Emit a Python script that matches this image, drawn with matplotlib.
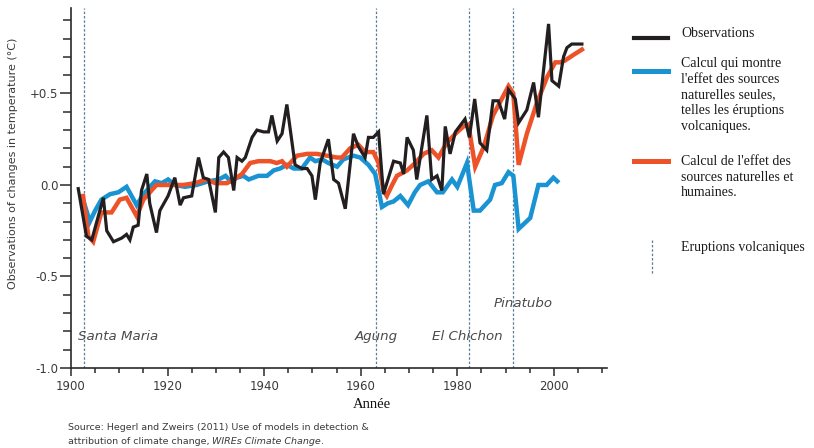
import numpy as np
import matplotlib
matplotlib.use('Agg')
import matplotlib.pyplot as plt
from matplotlib.lines import Line2D
from matplotlib.ticker import MultipleLocator, FixedLocator

# observations (year, anomaly °C)
obs_year = [1901.5, 1903.2, 1904.3, 1906.7, 1907.4, 1908.8, 1910.5, 1911.5, 1912.2, 1912.9,
            1913.9, 1914.6, 1915.7, 1916.3, 1917.7, 1918.4, 1920.1, 1921.5, 1922.6, 1923.3,
            1925.0, 1926.4, 1927.4, 1928.5, 1929.9, 1930.6, 1931.6, 1932.6, 1933.7, 1934.4,
            1935.4, 1936.1, 1937.5, 1938.5, 1939.9, 1940.9, 1941.6, 1942.7, 1943.7, 1944.7,
            1946.4, 1947.8, 1948.9, 1949.9, 1950.6, 1951.6, 1953.3, 1954.4, 1955.4, 1956.8,
            1958.5, 1959.5, 1960.9, 1961.6, 1962.6, 1963.7, 1964.7, 1966.8, 1968.2, 1968.9,
            1969.6, 1970.9, 1971.6, 1973.7, 1974.7, 1975.8, 1976.8, 1977.5, 1978.5, 1979.6,
            1981.6, 1982.5, 1983.6, 1984.7, 1986.1, 1987.4, 1988.5, 1989.8, 1990.6, 1992.0,
            1992.7, 1994.4, 1995.8, 1996.8, 1998.9, 1999.6, 2001.0, 2002.0, 2002.7, 2003.7,
            2004.4, 2005.1, 2005.8]
obs_val = [-0.02, -0.28, -0.30, -0.07, -0.25, -0.31, -0.29, -0.27, -0.30, -0.23,
           -0.22, -0.03, 0.06, -0.10, -0.26, -0.14, -0.06, 0.04, -0.11, -0.07,
           -0.06, 0.15, 0.04, 0.03, -0.15, 0.15, 0.18, 0.15, -0.03, 0.15,
           0.13, 0.15, 0.26, 0.30, 0.29, 0.29, 0.38, 0.24, 0.28, 0.44,
           0.11, 0.09, 0.09, 0.05, -0.08, 0.12, 0.25, 0.03, 0.01, -0.13,
           0.28, 0.21, 0.15, 0.26, 0.26, 0.29, -0.05, 0.13, 0.12, 0.06,
           0.26, 0.19, 0.03, 0.38, 0.03, 0.05, -0.03, 0.32, 0.17, 0.29,
           0.36, 0.26, 0.47, 0.23, 0.19, 0.46, 0.46, 0.36, 0.52, 0.47,
           0.34, 0.41, 0.56, 0.37, 0.88, 0.57, 0.54, 0.70, 0.75, 0.77,
           0.77, 0.77, 0.77]

# model, natural + human forcing
all_year = [1902.5, 1903.6, 1904.6, 1906.3, 1908.4, 1910.1, 1911.5, 1913.6, 1915.0, 1917.0,
            1917.7, 1920.1, 1923.2, 1925.7, 1928.0, 1929.9, 1932.3, 1933.7, 1935.4, 1937.1,
            1938.8, 1941.3, 1942.6, 1943.7, 1944.7, 1946.8, 1948.9, 1950.9, 1953.0, 1955.1,
            1956.1, 1957.8, 1959.5, 1960.9, 1962.6, 1963.7, 1964.7, 1965.4, 1966.5, 1967.5,
            1969.6, 1971.3, 1973.0, 1974.7, 1976.1, 1977.8, 1979.6, 1981.3, 1982.3, 1983.7,
            1985.5, 1987.4, 1990.6, 1991.6, 1992.7, 1994.4, 1996.5, 1998.6, 2000.3, 2001.3,
            2002.3, 2004.0, 2005.8]
all_val = [-0.06, -0.28, -0.31, -0.15, -0.15, -0.08, -0.07, -0.17, -0.08, -0.02,
           0.00, 0.00, 0.00, 0.01, 0.03, 0.01, 0.01, 0.03, 0.06, 0.12,
           0.13, 0.13, 0.12, 0.13, 0.10, 0.16, 0.17, 0.17, 0.16, 0.15,
           0.15, 0.20, 0.22, 0.18, 0.18, 0.12, -0.03, -0.06, 0.00, 0.05,
           0.08, 0.12, 0.17, 0.19, 0.15, 0.23, 0.28, 0.32, 0.33, 0.10,
           0.21, 0.38, 0.54, 0.50, 0.11, 0.28, 0.45, 0.59, 0.67, 0.67,
           0.68, 0.71, 0.74]

# model, natural forcing only
nat_year = [1902.5, 1903.9, 1905.0, 1906.3, 1908.1, 1909.8, 1911.5, 1913.6, 1915.0, 1917.4,
            1918.8, 1920.1, 1921.5, 1923.6, 1926.0, 1928.4, 1930.6, 1932.0, 1933.0, 1934.4,
            1935.7, 1936.8, 1938.8, 1940.6, 1942.0, 1943.3, 1944.7, 1946.1, 1947.8, 1949.5,
            1950.6, 1952.0, 1953.3, 1955.1, 1956.4, 1958.5, 1959.9, 1961.6, 1963.0, 1964.4,
            1965.6, 1966.8, 1968.2, 1969.8, 1971.2, 1972.3, 1974.0, 1975.8, 1977.0, 1978.9,
            1980.0, 1982.0, 1983.4, 1984.7, 1986.8, 1987.8, 1989.2, 1990.6, 1991.6, 1992.7,
            1995.1, 1996.8, 1998.5, 1999.9, 2000.7]
nat_val = [-0.08, -0.20, -0.14, -0.08, -0.05, -0.04, -0.01, -0.11, -0.05, 0.02,
           0.01, 0.03, 0.00, -0.01, 0.00, 0.02, 0.03, 0.05, 0.02, 0.04,
           0.05, 0.03, 0.05, 0.05, 0.08, 0.09, 0.11, 0.09, 0.09, 0.15,
           0.13, 0.14, 0.12, 0.10, 0.14, 0.16, 0.15, 0.11, 0.06, -0.12,
           -0.10, -0.09, -0.06, -0.11, -0.04, 0.00, 0.02, -0.04, -0.04, 0.03,
           -0.01, 0.12, -0.14, -0.14, -0.08, 0.00, 0.01, 0.07, 0.05, -0.24,
           -0.18, 0.00, 0.00, 0.04, 0.02]

eruptions = ['Santa Maria', 'Agung', 'El Chichon', 'Pinatubo']
eruption_year = [1902.6, 1963.2, 1982.4, 1991.6]

c_obs = '#231f20'
c_nat = '#1a93d2'
c_all = '#ee5229'
c_erup = '#5a7f99'
c_txt = '#3a3a3a'
serif = ['Liberation Serif', 'DejaVu Serif']

fig = plt.figure(figsize=(8.14, 4.48), dpi=100)
ax = fig.add_axes([71 / 814, 1 - 368 / 448, 536 / 814, 360 / 448])

for yr in eruption_year:
    ax.axvline(yr, color=c_erup, lw=0.9, ls=(0, (2, 1.5)), zorder=1)

ax.plot(nat_year, nat_val, color=c_nat, lw=3.2, solid_joinstyle='miter', zorder=2)
ax.plot(all_year, all_val, color=c_all, lw=3.2, solid_joinstyle='miter', zorder=3)
ax.plot(obs_year, obs_val, color=c_obs, lw=2.3, solid_joinstyle='miter', zorder=4)

ax.set_xlim(1900, 2011)
ax.set_ylim(-1.0, 0.967)
for s in ['top', 'right']:
    ax.spines[s].set_visible(False)
for s in ['left', 'bottom']:
    ax.spines[s].set_linewidth(1.2)
    ax.spines[s].set_color('#2a2a2a')

ax.xaxis.set_major_locator(MultipleLocator(20))
ax.xaxis.set_minor_locator(MultipleLocator(5))
ax.yaxis.set_major_locator(FixedLocator([-1.0, -0.5, 0.0, 0.5]))
ax.yaxis.set_minor_locator(MultipleLocator(0.1))
ax.set_yticklabels(['-1.0', '-0.5', '0.0', '+0.5'])
ax.tick_params(axis='x', which='major', length=6, width=1.1, color='#2a2a2a',
               labelsize=8.5, labelcolor=c_txt, pad=3)
ax.tick_params(axis='x', which='minor', length=3.5, width=1.1, color='#2a2a2a')
ax.tick_params(axis='y', which='major', length=8, width=1.1, color='#2a2a2a',
               labelsize=8.5, labelcolor=c_txt, pad=1)
ax.tick_params(axis='y', which='minor', length=5.5, width=1.1, color='#2a2a2a')

# eruption names
lab_x = [1909.8, 1963.2, 1982.1, 1993.7]
lab_y = [-0.83, -0.83, -0.83, -0.645]
for name, x, y in zip(eruptions, lab_x, lab_y):
    ax.text(x, y, name, style='italic', fontsize=9.6, color='#4a4a4a',
            ha='center', va='center')

fig.text(372 / 814, 1 - 405 / 448, 'Année', family=serif, fontsize=10.5,
         color='#111111', ha='center', va='center')
fig.text(13 / 814, 1 - 163 / 448, 'Observations of changes in temperature (°C)',
         rotation=90, fontsize=8, color=c_txt, ha='center', va='center')

# source note, second line has an italic journal name
fig.text(68 / 814, 1 - 427 / 448,
         'Source: Hegerl and Zweirs (2011) Use of models in detection &',
         fontsize=6.8, color=c_txt, va='center')
t2 = fig.text(68 / 814, 1 - 441 / 448, 'attribution of climate change, ',
              fontsize=6.8, color=c_txt, va='center')
a2 = ax.annotate('WIREs Climate Change', xy=(1, 0), xycoords=t2, va='bottom',
                 fontsize=6.8, color=c_txt, style='italic', annotation_clip=False)
ax.annotate('.', xy=(1, 0), xycoords=a2, va='bottom', fontsize=6.8,
            color=c_txt, annotation_clip=False)

# legend drawn by hand
def fx(px):
    return px / 814

def fy(py):
    return 1 - py / 448

leg_lines = [(c_obs, 38, 3.0), (c_nat, 71, 3.6), (c_all, 161, 3.6)]
for col, py, lw in leg_lines:
    fig.add_artist(Line2D([fx(634), fx(668)], [fy(py), fy(py)], color=col, lw=lw))
fig.add_artist(Line2D([fx(652), fx(652)], [fy(240), fy(274)], color=c_erup,
                      lw=0.9, ls=(0, (2, 1.5))))

leg_text = [
    (27, 'Observations'),
    (57, "Calcul qui montre\nl'effet des sources\nnaturelles seules,\ntelles les éruptions\nvolcaniques."),
    (155, "Calcul de l'effet des\nsources naturelles et\nhumaines."),
    (241, 'Eruptions volcaniques'),
]
for py, txt in leg_text:
    fig.text(fx(681), fy(py), txt, family=serif, fontsize=10, color='#1a1a1a',
             va='top', linespacing=1.27)

fig.savefig('out.png', dpi=100)
